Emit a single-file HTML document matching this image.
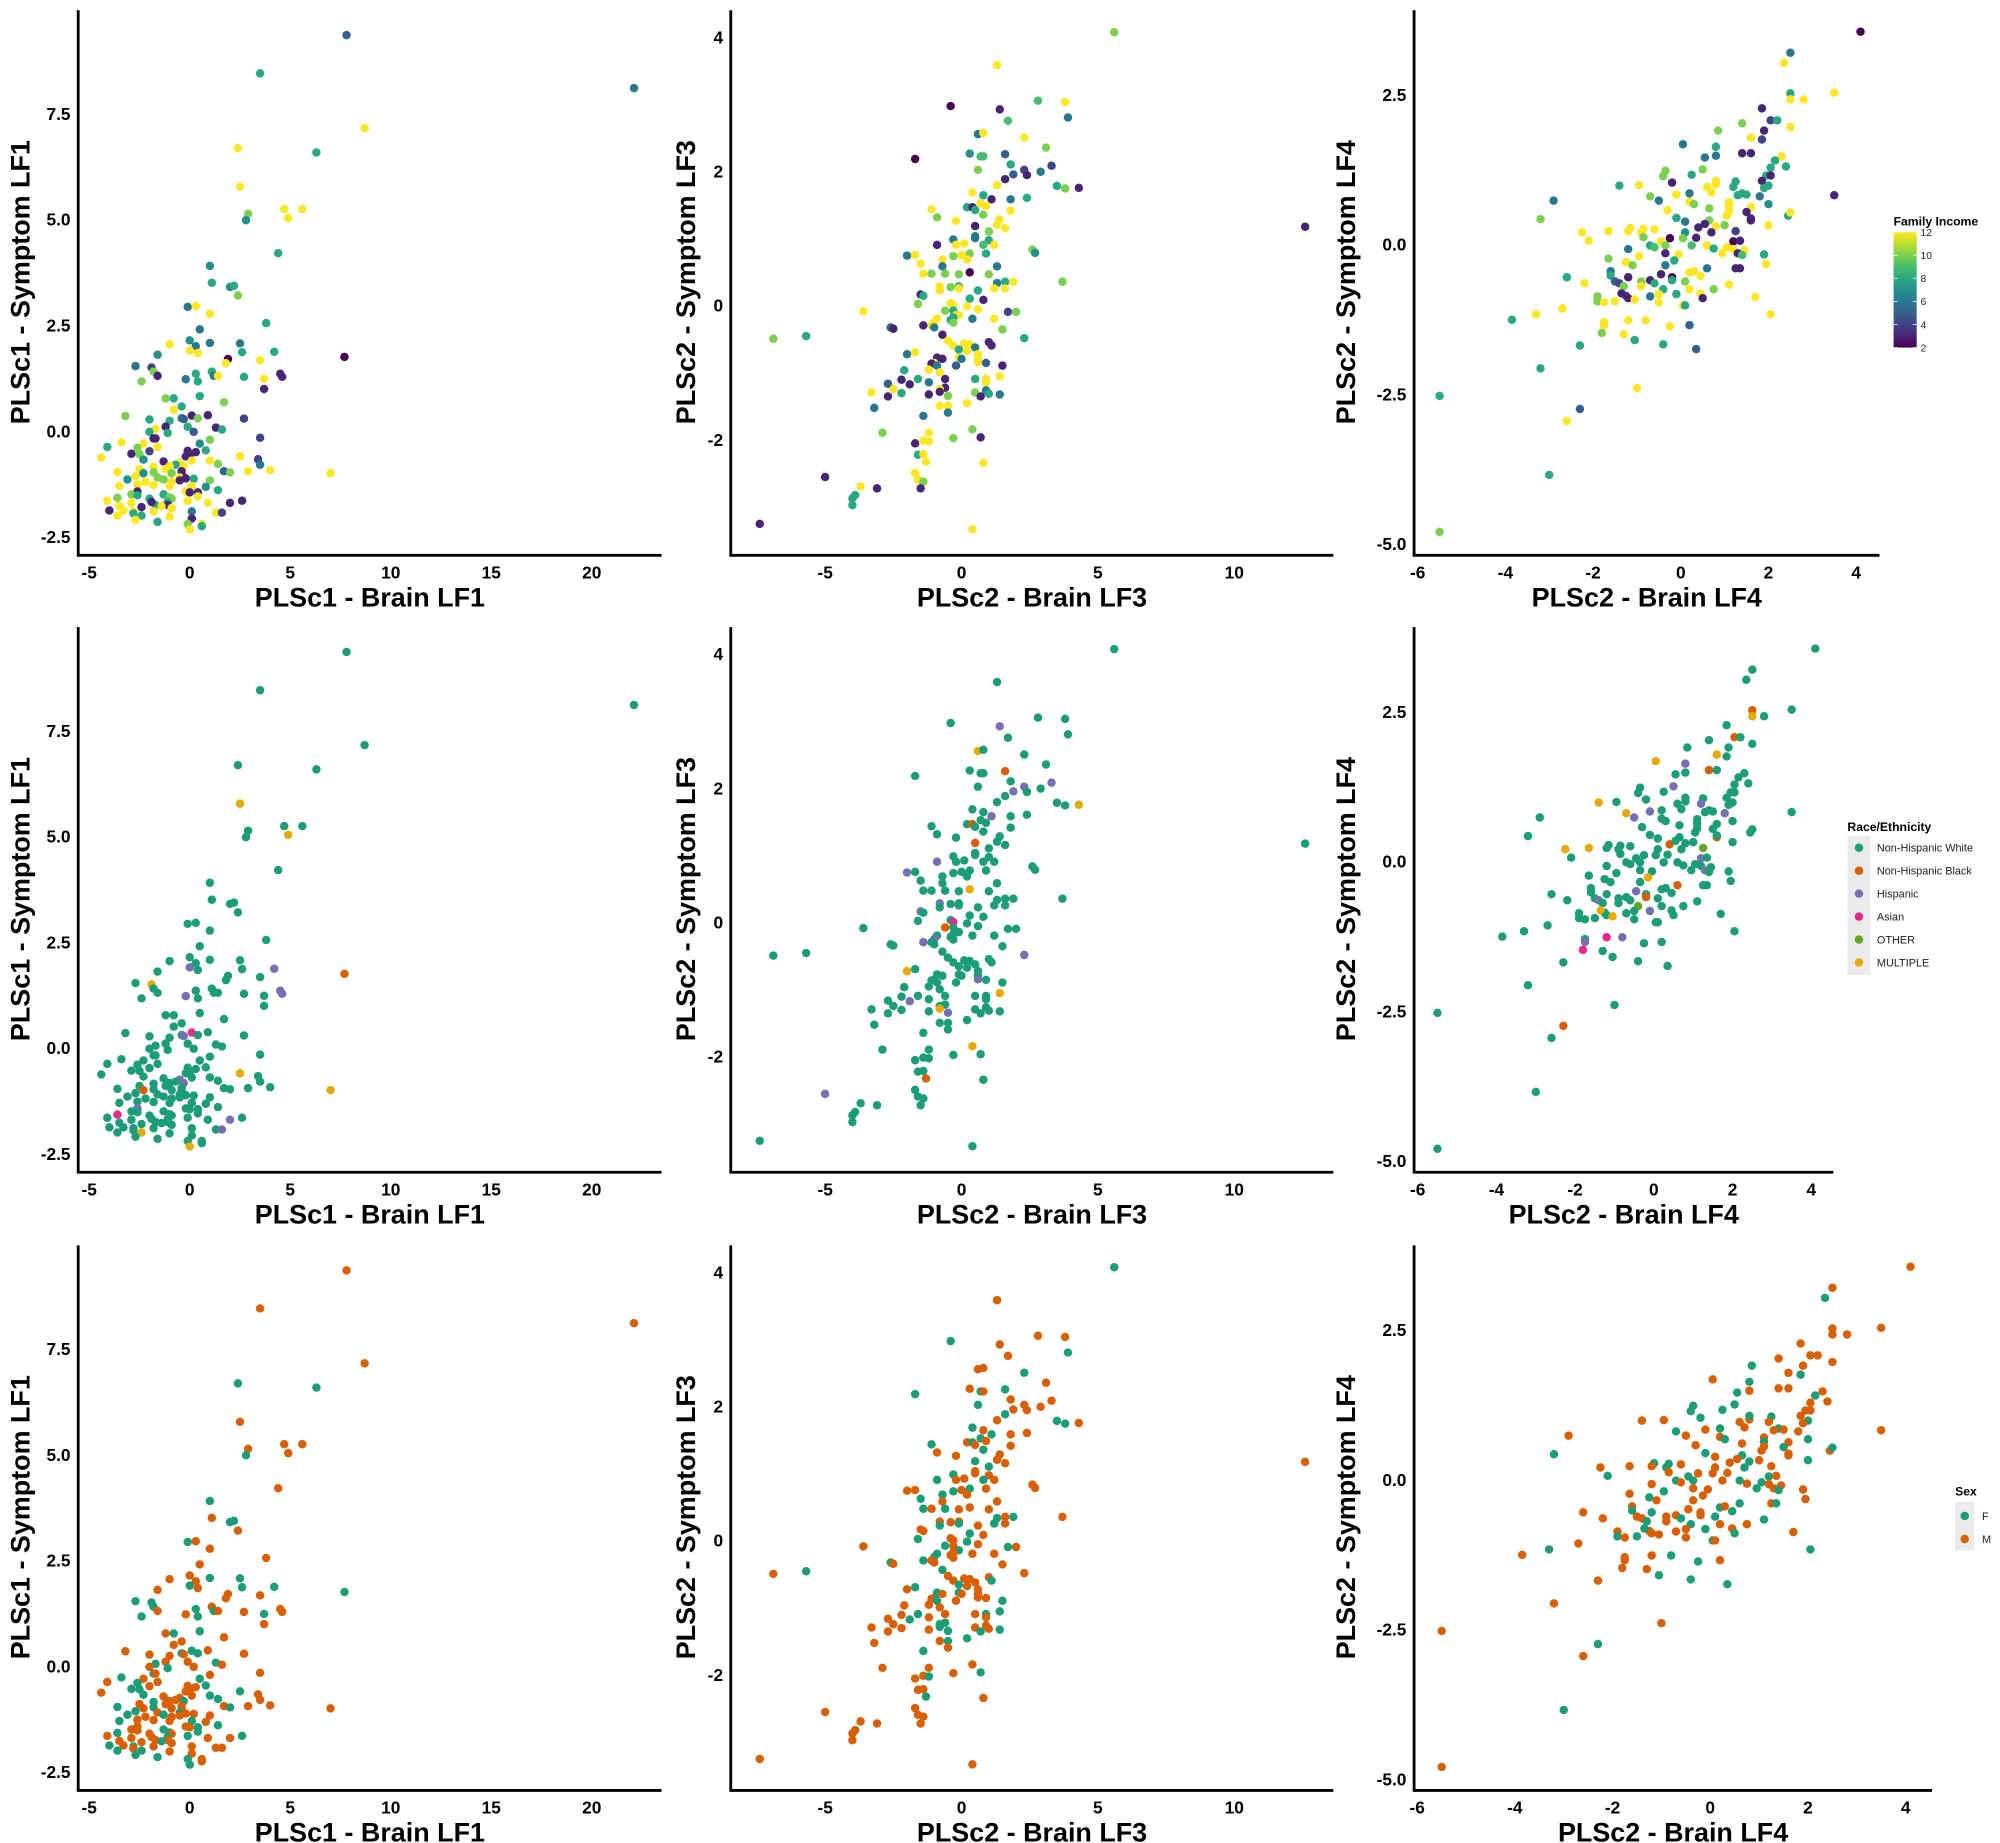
<!DOCTYPE html>
<html><head><meta charset="utf-8">
<style>
html,body{margin:0;padding:0;background:#fff;}
svg{display:block;}
text{font-family:"Liberation Sans",Arial,sans-serif;}
</style></head>
<body>
<svg id="fig" width="2000" height="1843" viewBox="0 0 1560 1437" preserveAspectRatio="none" xmlns="http://www.w3.org/2000/svg"></svg>
<script>
// ===== DATA: column 1 (PLSc1 Brain LF1 vs Symptom LF1): [x, y, income] =====
const lf1Points = [[7.8,9.35,5],[22.1,8.1,6],[3.5,8.45,8],[8.7,7.15,12],[2.4,6.68,12],[6.3,6.58,8],[2.5,5.77,12],[4.7,5.24,12],[5.6,5.24,12],[4.9,5.03,12],[2.9,5.13,10],[2.8,4.98,7],[4.4,4.2,8],[1.0,3.9,7],[1.1,3.5,8],[2.0,3.4,7],[2.2,3.43,8],[2.4,3.2,10],[-0.1,2.93,6],[0.3,2.95,12],[1.0,2.77,12],[3.8,2.55,8],[0.5,2.4,6],[0.0,2.14,7],[2.5,2.07,6],[1.0,2.08,6],[0.3,2.0,6],[-1.0,2.05,12],[0.0,1.9,12],[0.4,1.84,12],[2.6,1.86,8],[4.2,1.87,8],[-1.6,1.8,7],[7.7,1.75,2],[1.9,1.7,2],[3.5,1.67,12],[1.8,1.6,12],[-2.7,1.53,6],[-1.9,1.5,4],[-1.8,1.4,10],[1.1,1.4,8],[0.3,1.35,8],[4.5,1.35,3],[-1.6,1.3,3],[1.2,1.3,6],[1.4,1.3,12],[2.7,1.28,8],[4.6,1.28,3],[3.7,1.23,12],[-0.2,1.22,6],[0.4,1.17,8],[-2.4,1.17,10],[3.7,0.99,3],[0.5,0.82,8],[-1.2,0.77,10],[-0.8,0.77,8],[1.7,0.68,10],[-0.4,0.58,8],[-0.8,0.5,12],[-3.2,0.35,10],[0.1,0.36,3],[0.9,0.37,3],[-0.4,0.3,6],[-0.3,0.28,5],[0.4,0.3,10],[2.7,0.29,4],[-2.0,0.27,8],[-1.0,0.24,8],[-1.2,0.1,3],[-0.1,0.1,8],[1.3,0.08,3],[1.6,0.03,8],[-1.7,0.05,12],[-2.0,-0.02,8],[-1.1,-0.05,8],[0.2,-0.02,5],[-1.8,-0.18,3],[-1.7,-0.18,3],[3.5,-0.16,4],[-3.4,-0.27,12],[-2.3,-0.3,12],[1.0,-0.21,10],[0.5,-0.3,7],[-4.1,-0.38,8],[-2.6,-0.4,10],[-1.6,-0.38,12],[-2.0,-0.48,4],[-0.1,-0.47,3],[0.8,-0.46,8],[0.3,-0.5,3],[-2.9,-0.54,3],[-2.5,-0.55,10],[-0.2,-0.6,3],[0.0,-0.58,3],[-4.4,-0.63,12],[2.5,-0.6,12],[3.4,-0.67,4],[-1.3,-0.72,3],[-2.3,-0.68,7],[-0.5,-0.75,12],[0.1,-0.7,12],[1.0,-0.7,12],[-0.7,-0.8,8],[1.4,-0.78,10],[3.5,-0.8,6],[-1.8,-0.85,12],[-1.0,-0.83,12],[-0.3,-0.83,12],[-2.5,-0.9,12],[-1.2,-0.9,12],[-0.4,-0.95,3],[-3.6,-0.97,12],[-2.3,-1.0,7],[-1.8,-0.98,10],[-0.9,-1.0,10],[-0.4,-1.03,3],[1.7,-0.95,5],[2.0,-0.98,10],[2.9,-0.95,12],[4.0,-0.93,12],[7.0,-1.0,12],[-2.7,-1.07,12],[-1.6,-1.1,10],[-0.5,-1.1,12],[-0.2,-1.12,3],[0.2,-1.13,8],[-3.1,-1.15,7],[-2.2,-1.2,12],[-1.3,-1.15,10],[-0.9,-1.2,12],[-0.5,-1.17,3],[1.0,-1.17,10],[-3.5,-1.3,12],[-2.6,-1.27,12],[-1.8,-1.28,12],[-1.0,-1.3,12],[0.1,-1.3,12],[0.8,-1.32,7],[1.4,-1.4,8],[-0.2,-1.43,12],[-2.6,-1.43,3],[0.4,-1.45,3],[-2.9,-1.5,10],[-1.3,-1.5,8],[0.0,-1.45,3],[-2.6,-1.52,8],[-1.0,-1.57,10],[-0.9,-1.6,10],[-2.0,-1.6,8],[0.4,-1.55,12],[-3.6,-1.58,10],[-4.1,-1.65,12],[-2.9,-1.7,12],[-1.1,-1.68,8],[-1.7,-1.75,8],[-1.9,-1.68,3],[-1.1,-1.75,3],[-0.1,-1.65,12],[0.9,-1.7,12],[2.6,-1.65,3],[2.0,-1.7,3],[-3.5,-1.77,12],[-2.4,-1.8,3],[-1.4,-1.78,12],[-0.9,-1.82,12],[-2.8,-1.9,12],[-1.8,-1.9,12],[-3.3,-1.88,12],[-4.0,-1.88,3],[-2.8,-1.95,8],[-2.4,-2.0,8],[-3.6,-2.0,12],[-1.0,-2.02,12],[0.1,-1.9,6],[1.3,-1.93,12],[1.6,-1.93,4],[-2.7,-2.1,12],[0.1,-2.07,3],[-1.6,-2.15,8],[-0.1,-2.2,10],[0.6,-2.2,12],[0.6,-2.25,8],[0.0,-2.33,12]];
const lf1Sex = "MMMMFFMMMMMFMFMFFMFMMMMMFFMMFMFFMFMMMFFFMFMMFMMMFMFFMFMFMMMMFMFMFMMMMMFMFMFMFMMFMMFMFMMMFMFFMMMFMMFMMFMFMFMFMMMFMFMMMFMMMFMFMMFMFMMMFMMMFMFMMFMFMMFMMFFMMFMMMFMFMMMFMFMMFMFFMMMMFMFFMMFMFMMFM";
const lf1Race = {31:"H",38:"M",42:"H",47:"H",49:"H",33:"B",9:"M",6:"M",28:"H",60:"A",99:"H",107:"H",120:"M",140:"H",150:"A",160:"H",170:"M",175:"H",182:"M",95:"M",112:"B",63:"H"};

// ===== DATA: column 2 (PLSc2 Brain LF3 vs Symptom LF3): [x, y, income] =====
const lf3Points = [[5.6,4.07,10],[1.3,3.58,12],[-0.4,2.97,2],[1.4,2.92,3],[2.8,3.05,9],[3.8,3.03,12],[3.9,2.8,6],[1.7,2.75,9],[0.6,2.55,6],[0.8,2.57,12],[2.3,2.5,12],[3.1,2.35,10],[-1.7,2.18,2],[0.3,2.26,7],[0.7,2.22,9],[0.8,2.22,9],[1.6,2.25,5],[1.8,2.1,8],[0.6,2.02,10],[2.3,2.02,4],[2.9,1.99,6],[3.3,2.08,4],[1.6,1.88,3],[1.9,1.95,5],[2.4,1.94,3],[3.5,1.78,8],[3.8,1.74,10],[4.3,1.75,3],[1.3,1.79,12],[0.4,1.68,12],[0.8,1.64,8],[1.1,1.58,3],[1.8,1.58,6],[2.4,1.6,8],[0.7,1.52,12],[0.9,1.48,12],[0.2,1.46,8],[0.4,1.46,3],[0.5,1.42,8],[1.8,1.41,12],[-1.1,1.43,12],[-0.9,1.31,10],[0.8,1.35,10],[-0.2,1.26,12],[1.4,1.28,12],[1.3,1.2,12],[1.6,1.15,12],[0.5,1.18,3],[12.6,1.17,3],[1.0,1.1,10],[0.5,1.03,7],[0.5,1.0,6],[-0.3,0.98,6],[1.0,0.97,8],[-0.9,0.9,3],[-0.2,0.9,12],[0.1,0.92,12],[0.8,0.9,9],[1.2,0.9,12],[-2.0,0.74,6],[-1.7,0.75,12],[-0.3,0.73,10],[0.0,0.75,12],[0.3,0.77,10],[0.9,0.77,8],[2.6,0.83,10],[2.7,0.78,7],[-0.7,0.68,12],[0.2,0.68,12],[-1.5,0.62,12],[-0.7,0.58,6],[1.3,0.58,6],[-1.4,0.47,12],[-1.1,0.47,10],[-0.6,0.47,10],[-0.1,0.46,10],[0.3,0.49,2],[1.0,0.46,10],[1.3,0.33,6],[1.6,0.35,8],[1.9,0.35,12],[3.7,0.35,10],[-0.8,0.28,12],[-0.8,0.22,12],[-0.4,0.27,10],[-0.1,0.28,8],[-0.1,0.25,12],[0.6,0.22,8],[1.2,0.25,12],[1.6,0.25,12],[-1.5,0.16,3],[-1.4,0.14,8],[0.3,0.1,8],[0.8,0.08,3],[-1.6,0.02,10],[-0.4,0.03,12],[-0.3,0.0,12],[0.2,-0.02,12],[0.6,-0.06,12],[-0.6,-0.08,10],[-0.3,-0.08,8],[1.7,-0.1,4],[2.0,-0.1,10],[-3.6,-0.09,12],[-0.2,-0.15,12],[-0.1,-0.15,12],[-0.3,-0.18,8],[-0.9,-0.2,12],[0.4,-0.2,6],[1.2,-0.2,12],[-1.0,-0.25,12],[-0.4,-0.22,8],[-0.3,-0.26,10],[-1.1,-0.3,12],[-1.4,-0.3,3],[-1.0,-0.33,6],[-2.6,-0.33,5],[-2.5,-0.35,3],[1.5,-0.36,10],[-0.7,-0.44,3],[-6.9,-0.5,10],[-5.7,-0.46,8],[2.3,-0.49,8],[-0.5,-0.53,12],[1.0,-0.55,3],[1.1,-0.6,3],[0.1,-0.57,12],[0.3,-0.58,12],[-0.3,-0.6,12],[0.5,-0.63,6],[-0.1,-0.66,8],[0.2,-0.68,12],[-1.7,-0.7,12],[-2.0,-0.73,6],[0.6,-0.73,12],[-0.9,-0.78,3],[-0.7,-0.8,3],[-0.1,-0.78,12],[0.6,-0.8,12],[0.0,-0.8,6],[0.6,-0.85,12],[-1.0,-0.86,12],[-1.1,-0.87,3],[-0.9,-0.9,6],[-0.2,-0.9,5],[0.9,-0.86,5],[1.5,-0.9,3],[-2.1,-0.97,8],[-1.2,-0.96,12],[-0.8,-1.0,12],[1.4,-1.06,12],[-2.2,-1.11,3],[-1.6,-1.1,8],[-0.6,-1.1,3],[0.5,-1.1,8],[0.9,-1.1,12],[0.9,-1.15,12],[-2.7,-1.17,5],[-1.9,-1.18,3],[-1.2,-1.15,6],[-0.6,-1.23,3],[-2.5,-1.25,12],[-3.3,-1.3,12],[-2.2,-1.31,8],[-0.8,-1.25,12],[-0.8,-1.29,3],[0.5,-1.3,10],[0.9,-1.27,6],[1.0,-1.32,8],[1.4,-1.33,6],[-2.7,-1.36,3],[-1.2,-1.33,3],[-0.5,-1.35,10],[0.7,-1.36,3],[-3.2,-1.53,6],[-0.8,-1.5,12],[-0.5,-1.5,12],[0.2,-1.46,12],[-0.5,-1.6,6],[-1.4,-1.65,6],[0.4,-1.85,10],[-2.9,-1.9,10],[-1.2,-1.9,12],[-1.4,-2.02,12],[-1.2,-2.03,12],[-0.3,-1.98,10],[0.7,-1.97,3],[-1.7,-2.06,3],[-1.6,-2.23,8],[-1.4,-2.22,12],[-1.3,-2.33,12],[0.8,-2.35,12],[-1.7,-2.5,12],[-1.6,-2.6,12],[-1.4,-2.63,10],[-5.0,-2.56,3],[-3.1,-2.73,3],[-1.5,-2.73,3],[-3.7,-2.7,12],[-3.9,-2.83,8],[-4.0,-2.88,8],[-4.0,-2.98,8],[-7.4,-3.26,3],[0.4,-3.34,12]];
const lf3Sex = "FMFMMMFMMMFMFMFMFMFMMMFMMFFMMFMFMMFMMFMMFMFMMMMFMFMMFMFMMFMMMFMFMMMFMFMMFMFMMMFMFMMFMMFMFMMMFMFMMFMFMFMMMFMFMMFMMMFMFMMFMFMMMFMMMMFMFMMFMFMMMFMFMMFMMMFMFMMFMMFMFMMMFFMMMFMMFFMMFFMFMMMMFMFMMMFMMMM";
const lf3Race = {3:"H",8:"M",16:"B",19:"H",21:"H",23:"H",27:"M",31:"H",37:"B",47:"B",54:"H",59:"H",76:"M",82:"H",90:"H",96:"A",99:"B",110:"H",114:"H",122:"H",133:"M",140:"H",150:"M",158:"H",165:"M",172:"H",180:"M",190:"B",195:"H",205:"M",206:"H",210:"M"};

// ===== DATA: column 3 (PLSc2 Brain LF4 vs Symptom LF4): [x, y, income] =====
const lf4Points = [[4.1,3.55,2],[2.5,3.2,6],[2.35,3.03,12],[3.5,2.53,12],[2.5,2.52,8],[2.5,2.42,12],[2.8,2.42,12],[1.85,2.27,3],[2.05,2.07,4],[2.2,2.07,8],[1.4,2.02,10],[2.5,1.96,12],[0.85,1.9,10],[1.9,1.9,3],[1.6,1.78,12],[1.85,1.75,4],[0.05,1.67,6],[0.8,1.63,8],[1.4,1.52,3],[1.6,1.52,3],[0.55,1.45,6],[0.8,1.48,6],[2.3,1.47,12],[2.15,1.4,8],[2.4,1.3,8],[2.05,1.28,8],[0.5,1.25,10],[-0.35,1.23,10],[0.25,1.16,8],[-0.4,1.14,10],[1.95,1.15,8],[2.05,1.15,3],[1.25,1.05,8],[1.85,1.06,3],[-1.4,0.98,8],[-0.95,0.99,12],[-0.2,1.03,3],[0.6,0.96,12],[0.8,1.0,12],[0.8,1.06,12],[1.2,0.96,8],[2.0,0.98,8],[1.9,0.94,8],[-0.1,0.83,12],[0.7,0.87,12],[1.4,0.85,8],[1.5,0.83,8],[-0.7,0.8,10],[0.2,0.85,6],[1.3,0.82,8],[-2.9,0.73,6],[0.2,0.71,12],[0.3,0.67,10],[1.1,0.7,12],[1.8,0.8,6],[-0.5,0.73,6],[2.0,0.67,7],[-0.3,0.57,12],[0.65,0.6,10],[1.1,0.63,12],[1.6,0.62,12],[1.5,0.54,3],[2.45,0.48,8],[2.5,0.53,12],[3.5,0.82,3],[1.05,0.48,12],[1.1,0.55,12],[-3.2,0.42,10],[-0.1,0.44,8],[0.1,0.38,6],[0.65,0.4,10],[1.6,0.4,3],[1.6,0.43,3],[-2.25,0.2,12],[-1.65,0.22,12],[-1.15,0.27,12],[-1.2,0.22,12],[-0.85,0.26,12],[-0.6,0.25,12],[-0.9,0.2,12],[0.4,0.28,3],[0.55,0.34,3],[0.8,0.3,12],[1.0,0.32,10],[2.0,0.32,12],[1.25,0.22,4],[0.1,0.2,7],[0.7,0.2,3],[-0.25,0.1,2],[-2.1,0.06,12],[-0.85,0.12,10],[-0.45,0.05,12],[0.05,0.1,10],[0.35,0.11,3],[1.2,0.05,2],[1.35,0.06,3],[-0.7,-0.02,8],[-0.6,-0.05,9],[-0.35,-0.02,10],[-1.2,-0.08,6],[0.25,-0.02,9],[0.6,-0.02,12],[0.75,-0.07,8],[1.05,-0.05,12],[1.2,-0.08,12],[1.45,-0.1,12],[-0.35,-0.15,3],[-0.95,-0.2,12],[-0.05,-0.17,12],[0.95,-0.15,12],[1.3,-0.15,3],[1.4,-0.18,9],[1.9,-0.17,8],[-1.65,-0.24,10],[-1.25,-0.3,12],[-1.1,-0.35,10],[-0.35,-0.35,6],[-0.15,-0.27,8],[0.6,-0.4,6],[1.25,-0.4,3],[1.35,-0.4,3],[1.95,-0.33,12],[-1.6,-0.45,6],[-1.6,-0.52,8],[-2.6,-0.55,8],[-1.2,-0.55,3],[-0.45,-0.5,3],[-0.2,-0.55,2],[0.2,-0.47,12],[0.3,-0.45,12],[0.45,-0.53,12],[-1.5,-0.62,5],[-1.4,-0.65,4],[-0.7,-0.6,3],[-0.6,-0.65,8],[-0.2,-0.6,8],[0.1,-0.62,10],[-2.2,-0.65,12],[-0.9,-0.62,10],[-1.3,-0.7,10],[-0.9,-0.7,12],[-0.4,-0.75,8],[0.2,-0.75,12],[0.75,-0.75,10],[1.1,-0.67,12],[-1.25,-0.86,4],[-1.35,-0.82,3],[-1.2,-0.9,3],[-0.7,-0.87,6],[-0.5,-0.83,12],[-0.1,-0.83,8],[0.45,-0.82,12],[0.5,-0.9,3],[1.7,-0.88,12],[-1.9,-0.87,10],[-1.9,-0.95,10],[-1.75,-0.97,12],[-1.5,-0.95,12],[-1.05,-0.92,12],[-0.5,-0.97,12],[0.05,-1.02,12],[0.1,-1.02,8],[-2.7,-1.07,12],[-3.3,-1.17,12],[-1.2,-1.27,12],[-1.75,-1.3,12],[-0.8,-1.27,12],[-0.25,-1.37,12],[0.2,-1.35,5],[2.05,-1.17,12],[-3.85,-1.26,8],[-1.75,-1.35,12],[-1.8,-1.48,10],[-1.3,-1.5,12],[-1.05,-1.6,8],[-0.4,-1.67,8],[-2.3,-1.69,8],[0.35,-1.75,5],[-3.2,-2.07,8],[-1.0,-2.4,12],[-2.3,-2.75,5],[-2.6,-2.95,12],[-5.5,-2.53,8],[-3.0,-3.85,8],[-5.5,-4.8,10]];
const lf4Sex = "MMFMMMMMMMMMFMMFMFMMFMMFMMFFFFMMFMMMFMMFMFMMMFMFFMMMFMMMFMMFMFMFMMMFFMFMMMMFMFMFMMFMFMMFMFMFMMFMFMFMMFMFMMMFMFMFMMFMMMFMFMMFMFMMFMFMMMFMFMMFMFMMFMFMMMFMFMMFMFMMFMMFMMFFMFMMMMFFMFMMFMMFMMFMFFMMMFMFFMFM";
const lf4Race = {4:"B",5:"M",8:"B",14:"M",17:"H",16:"M",18:"B",26:"H",34:"M",40:"H",43:"H",54:"H",47:"M",55:"H",71:"B",73:"M",74:"M",80:"B",85:"O",94:"H",110:"H",117:"M",118:"B",126:"H",132:"H",135:"B",141:"O",146:"M",150:"H",158:"M",164:"A",166:"H",171:"H",172:"A",180:"B",185:"H",193:"H",197:"B",195:"M"};

// ===== tick labels =====
const ticksLF1X = [-5,0,5,10,15,20];
const ticksLF1Y = [-2.5,0,2.5,5,7.5];
const ticksLF3X = [-5,0,5,10];
const ticksLF3Y = [-2,0,2,4];
const ticksLF4X = [-6,-4,-2,0,2,4];
const ticksLF4Y = [-5,-2.5,0,2.5];
const incomeTicks = [2,4,6,8,10,12];
const raceLabels = ["Non-Hispanic White","Non-Hispanic Black","Hispanic","Asian","OTHER","MULTIPLE"];
const sexLabels = ["F","M"];

const NS = "http://www.w3.org/2000/svg";
const svg = document.getElementById('fig');
function mk(tag, attrs, parent){const e=document.createElementNS(NS,tag);for(const k in attrs)e.setAttribute(k,attrs[k]);(parent||svg).appendChild(e);return e;}

const raceColors = {W:"#1b9e77",B:"#d95f02",H:"#7570b3",A:"#e7298a",O:"#66a61e",M:"#e6ab02"};
const raceKeys = ["W","B","H","A","O","M"];
const sexColors = {F:"#1b9e77",M:"#d95f02"};
const vir = [[68,1,84],[72,40,120],[62,74,137],[49,104,142],[38,130,142],[31,158,137],[53,183,121],[109,205,89],[180,222,44],[253,231,37]];
function viridis(v){let t=(v-2)/10;t=Math.max(0,Math.min(1,t));const p=t*(vir.length-1);const i=Math.min(vir.length-2,Math.floor(p));const f=p-i;const a=vir[i],b=vir[i+1];return `rgb(${Math.round(a[0]+(b[0]-a[0])*f)},${Math.round(a[1]+(b[1]-a[1])*f)},${Math.round(a[2]+(b[2]-a[2])*f)})`;}

const rowOff=[0,481,963];
const cols=[
 {pts:lf1Points,sex:lf1Sex,race:lf1Race,tx:ticksLF1X,ty:ticksLF1Y,yfmt:v=>v.toFixed(1),left:61,right:[516,516,516],x0:[148,148,148],kx:[15.68,15.68,15.68],y0:336,ky:33.0,xt:"PLSc1 - Brain LF1",yt:"PLSc1 - Symptom LF1",ytx:16,key:"lf1"},
 {pts:lf3Points,sex:lf3Sex,race:lf3Race,tx:ticksLF3X,ty:ticksLF3Y,yfmt:v=>String(v),left:570,right:[1040,1040,1040],x0:[750,750,750],kx:[21.27,21.27,21.27],y0:238,ky:52.3,xt:"PLSc2 - Brain LF3",yt:"PLSc2 - Symptom LF3",ytx:535,key:"lf3"},
 {pts:lf4Points,sex:lf4Sex,race:lf4Race,tx:ticksLF4X,ty:ticksLF4Y,yfmt:v=>v.toFixed(1),left:1103,right:[1466,1430,1507],x0:[1311,1290,1334],kx:[34.2,30.7,38.1],y0:190.5,ky:46.7,xt:"PLSc2 - Brain LF4",yt:"PLSc2 - Symptom LF4",ytx:1050,key:"lf4"}
];
const rowKinds=["income","race","sex"];

for(let r=0;r<3;r++){
 for(let c=0;c<3;c++){
  const C=cols[c];const off=rowOff[r];
  const g=mk('g',{});
  
  
  const xs=v=>C.x0[r]+v*C.kx[r];
  const ys=v=>off+C.y0-v*C.ky;
  const top=off+8,bot=off+433,left=C.left,right=C.right[r];
  const pg=mk('g',{},g);
  
  
  C.pts.forEach((p,i)=>{
   let col;
   if(r===0) col=viridis(p[2]);
   else if(r===1) col=raceColors[C.race[i]||"W"];
   else col=sexColors[C.sex[i]||"M"];
   const e=mk('circle',{cx:xs(p[0]).toFixed(1),cy:ys(p[1]).toFixed(1),r:3.3,fill:col},pg);
   
   
  });
  const ax=mk('path',{d:`M${left} ${top} V${bot} H${right}`,stroke:'#000','stroke-width':2.2,fill:'none'},g);
  
  
  C.tx.forEach(v=>{
   const t=mk('text',{x:xs(v),y:bot+18,'text-anchor':'middle','font-size':13.5,'font-weight':'bold',fill:'#000'},g);
   t.textContent=String(v);
   
   
  });
  C.ty.forEach(v=>{
   const t=mk('text',{x:left-6,y:ys(v)+5,'text-anchor':'end','font-size':13.5,'font-weight':'bold',fill:'#000'},g);
   t.textContent=C.yfmt(v);
   
   
  });
  const xtl=mk('text',{x:(left+right)/2,y:bot+40,'text-anchor':'middle','font-size':21,'font-weight':'bold',fill:'#000'},g);
  xtl.textContent=C.xt;
  
  
  const cy=off+220;
  const ytl=mk('text',{x:0,y:0,transform:`translate(${C.ytx+7},${cy}) rotate(-90)`,'text-anchor':'middle','font-size':21,'font-weight':'bold',fill:'#000'},g);
  ytl.textContent=C.yt;
  
  
 }
}

// ===== legends =====
const lg1=mk('g',{});


const t1=mk('text',{x:1477,y:176,'font-size':9.5,'font-weight':'bold',fill:'#000'},lg1);
t1.textContent="Family Income";
const defs=mk('defs',{});
const grad=mk('linearGradient',{id:'vg',x1:0,y1:1,x2:0,y2:0},defs);
for(let i=0;i<=10;i++){mk('stop',{offset:i/10,'stop-color':viridis(2+i)},grad);}
const bar=mk('rect',{x:1477,y:181,width:18,height:90,fill:'url(#vg)'},lg1);


incomeTicks.forEach(v=>{
 const yy=271-(v-2)/10*90;
 mk('line',{x1:1477,x2:1480,y1:yy,y2:yy,stroke:'#fff','stroke-width':0.6},lg1);
 mk('line',{x1:1492,x2:1495,y1:yy,y2:yy,stroke:'#fff','stroke-width':0.6},lg1);
 const t=mk('text',{x:1498,y:yy+3,'font-size':8,fill:'#222'},lg1);
 t.textContent=String(v);
 
 
});
const lg2=mk('g',{});


const t2=mk('text',{x:1441,y:648,'font-size':9.5,'font-weight':'bold',fill:'#000'},lg2);
t2.textContent="Race/Ethnicity";
mk('rect',{x:1441,y:652,width:18,height:108,fill:'#ebebeb'},lg2);
raceLabels.forEach((lab,i)=>{
 const yy=661+i*17.9;
 const d=mk('circle',{cx:1450,cy:yy,r:3.3,fill:raceColors[raceKeys[i]]},lg2);
 
 
 const t=mk('text',{x:1464,y:yy+3,'font-size':8.5,fill:'#222'},lg2);
 t.textContent=lab;
 
 
});
const lg3=mk('g',{});


const t3=mk('text',{x:1525,y:1166,'font-size':9.5,'font-weight':'bold',fill:'#000'},lg3);
t3.textContent="Sex";
mk('rect',{x:1525,y:1171,width:15,height:38,fill:'#ebebeb'},lg3);
sexLabels.forEach((lab,i)=>{
 const yy=1182+i*18;
 const d=mk('circle',{cx:1532.5,cy:yy,r:3.3,fill:sexColors[lab]},lg3);
 
 
 const t=mk('text',{x:1546,y:yy+3,'font-size':8.5,fill:'#222'},lg3);
 t.textContent=lab;
 
 
});
</script>
</body></html>
